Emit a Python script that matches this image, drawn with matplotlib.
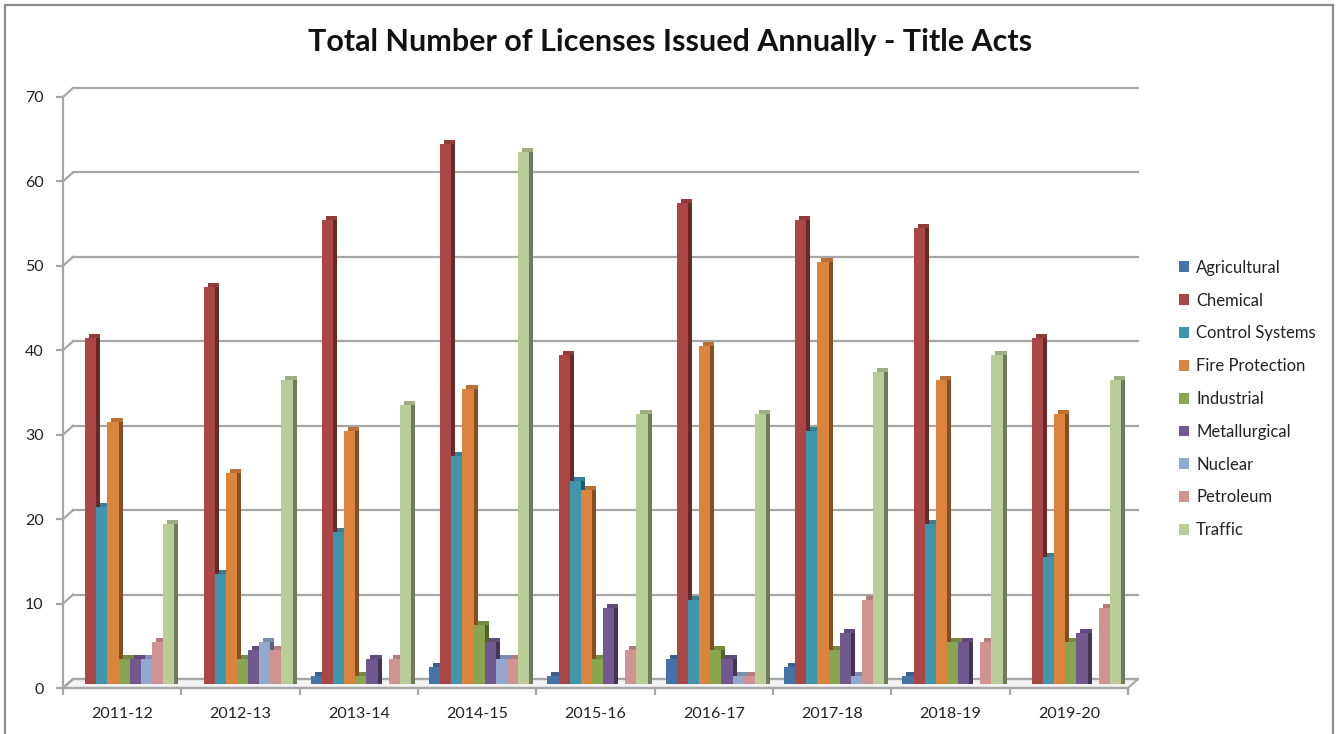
import numpy as np
import matplotlib
matplotlib.use("Agg")
import matplotlib.pyplot as plt
import matplotlib.patches as patches
import matplotlib.patheffects as pe
from matplotlib.transforms import ScaledTranslation
from matplotlib.colors import to_rgb

years = ["2011-12", "2012-13", "2013-14", "2014-15", "2015-16",
         "2016-17", "2017-18", "2018-19", "2019-20"]

agricultural = [0, 0, 1, 2, 1, 3, 2, 1, 0]
chemical = [41, 47, 55, 64, 39, 57, 55, 54, 41]
control_systems = [21, 13, 18, 27, 24, 10, 30, 19, 15]
fire_protection = [31, 25, 30, 35, 23, 40, 50, 36, 32]
industrial = [3, 3, 1, 7, 3, 4, 4, 5, 5]
metallurgical = [3, 4, 3, 5, 9, 3, 6, 5, 6]
nuclear = [3, 5, 0, 3, 0, 1, 1, 0, 0]
petroleum = [5, 4, 3, 3, 4, 1, 10, 5, 9]
traffic = [19, 36, 33, 63, 32, 32, 37, 39, 36]

series_names = ["Agricultural", "Chemical", "Control Systems", "Fire Protection",
                "Industrial", "Metallurgical", "Nuclear", "Petroleum", "Traffic"]
series_values = [agricultural, chemical, control_systems, fire_protection,
                 industrial, metallurgical, nuclear, petroleum, traffic]
colors = ["#4572A7", "#AA4643", "#3D96AE", "#DB843D", "#89A54E",
          "#71588F", "#92A8CD", "#D19392", "#B9CD96"]

font = ["Lato", "DejaVu Sans"]
plt.rcParams["font.family"] = font

W_PX, H_PX = 1341, 734
dpi = 100
fig = plt.figure(figsize=(W_PX / dpi, H_PX / dpi), dpi=dpi)

# front axis: x 63..1128 px, y=0 at 688 px, y=70 at 97 px
left, right = 63, 1128
y0_px, y70_px = 688, 97
ax = fig.add_axes([left / W_PX, (H_PX - y0_px) / H_PX,
                   (right - left) / W_PX, (y0_px - y70_px) / H_PX])
ymax = 70
ax.set_xlim(-0.5, len(years) - 0.5)
ax.set_ylim(0, ymax)

grid_color = "#a6a6a6"
# 3d depth of the walls, in pixels
depth_x, depth_y = 10, 9
dx = depth_x / (right - left)
dy = depth_y / (y0_px - y70_px) * ymax
ytr = ax.get_yaxis_transform()
for v in range(0, ymax + 1, 10):
    ax.plot([dx, 1 + dx], [v + dy, v + dy], color=grid_color, lw=1.6,
            transform=ytr, clip_on=False, zorder=0.5)
    ax.plot([0, dx], [v, v + dy], color=grid_color, lw=1.6,
            transform=ytr, clip_on=False, zorder=0.5)
# floor
floor = patches.Polygon([(0, 0), (1, 0), (1 + dx, dy), (dx, dy)], closed=True,
                        facecolor="#f4f4f4", edgecolor=grid_color, lw=1.6,
                        transform=ytr, clip_on=False, zorder=0.4)
ax.add_patch(floor)

# bars sit half way into the depth
n = len(series_names)
bar_w = 0.094
x = np.arange(len(years))
bar_shift = ScaledTranslation(2 / dpi, 4 / dpi, fig.dpi_scale_trans)
side = 4 * 72 / dpi
legend_handles = []
for i, (name, vals, c) in enumerate(zip(series_names, series_values, colors)):
    rgb = np.array(to_rgb(c))
    top_c = tuple(rgb * 0.85)
    side_c = tuple(rgb * 0.6)
    offs = (i - (n - 1) / 2) * bar_w
    bars = ax.bar(x + offs, vals, bar_w, color=c, lw=0,
                  transform=ax.transData + bar_shift, zorder=2 + i * 0.01,
                  clip_on=False)
    for b in bars:
        b.set_path_effects([
            pe.SimplePatchShadow(offset=(side, side), shadow_rgbFace=top_c, alpha=1.0),
            pe.SimplePatchShadow(offset=(side, 0), shadow_rgbFace=side_c, alpha=1.0),
            pe.Normal(),
        ])
    legend_handles.append(patches.Patch(facecolor=c, edgecolor="none", label=name))

# axes styling
for s in ["top", "right"]:
    ax.spines[s].set_visible(False)
for s in ["left", "bottom"]:
    ax.spines[s].set_color(grid_color)
    ax.spines[s].set_linewidth(1.6)
ax.set_yticks(range(0, ymax + 1, 10))
ax.tick_params(axis="y", length=5, width=1.6, color=grid_color, pad=9,
               labelsize=11.5, labelcolor="#222222")
ax.set_xticks(x)
ax.set_xticklabels(years)
ax.set_xticks(np.arange(len(years) + 1) - 0.5, minor=True)
ax.tick_params(axis="x", which="major", length=0, pad=14, labelsize=11.5,
               labelcolor="#222222")
ax.tick_params(axis="x", which="minor", length=5, width=1.6, color=grid_color)
ax.set_facecolor("none")

fig.text(0.4996, 1 - 42 / H_PX, "Total Number of Licenses Issued Annually - Title Acts",
         ha="center", va="center", fontsize=22, fontweight="bold", color="#111111")

leg = fig.legend(handles=legend_handles, loc="center left",
                 bbox_to_anchor=(1179 / W_PX, 1 - 399 / H_PX), frameon=False,
                 fontsize=12, handlelength=0.62, handleheight=0.62,
                 handletextpad=0.4, labelspacing=1.01, borderpad=0,
                 borderaxespad=0)
for t in leg.get_texts():
    t.set_color("#222222")

# outer chart border
border = patches.Rectangle((5 / W_PX, -0.05), 1328 / W_PX, 1.05 - 5 / H_PX,
                           transform=fig.transFigure, fill=False,
                           edgecolor="#8c8c8c", lw=1.6)
fig.patches.append(border)

fig.savefig("out.png", dpi=dpi)
